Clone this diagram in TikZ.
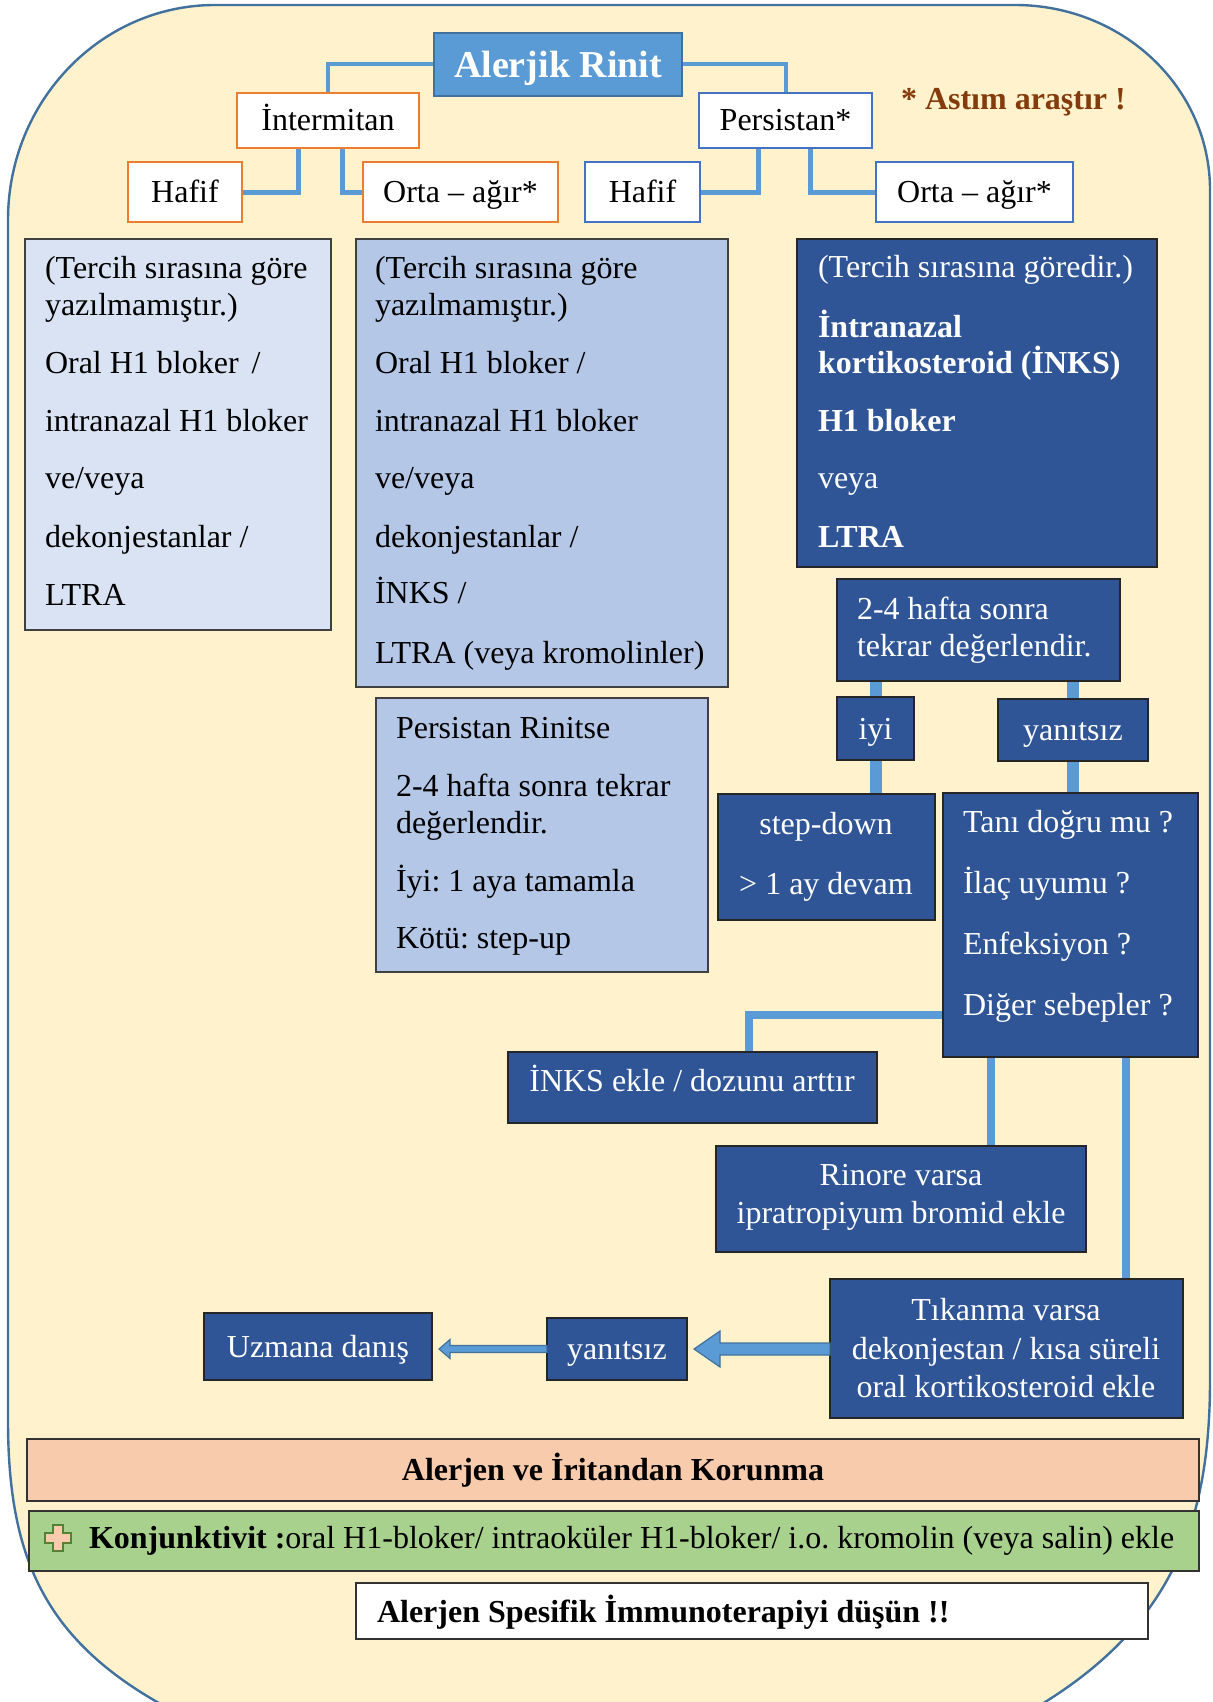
\documentclass[tikz,border=0pt]{standalone}
\usepackage{fontspec}
\setmainfont{Liberation Serif}
\usetikzlibrary{calc}
\definecolor{cream}{HTML}{FFF2CC}
\definecolor{outline}{HTML}{41719C}
\definecolor{cblue}{HTML}{5B9BD5}
\definecolor{tedge}{HTML}{41719C}
\definecolor{orng}{HTML}{ED7D31}
\definecolor{bedge}{HTML}{4472C4}
\definecolor{lbone}{HTML}{DAE3F3}
\definecolor{lbtwo}{HTML}{B4C7E7}
\definecolor{dk}{HTML}{2F5597}
\definecolor{peach}{HTML}{F8CBAD}
\definecolor{grn}{HTML}{A9D18E}
\definecolor{grnedge}{HTML}{548235}
\definecolor{brwn}{HTML}{843C0C}
\pgfdeclarelayer{back}
\pgfdeclarelayer{bg}
\pgfsetlayers{back,bg,main}
\newcommand\mkbox[6]{\node[#6, minimum width={0.5*(#4-#2)}, minimum height={0.5*(#5-#3)}] (#1) at ({(#2+#4)/2},{(#3+#5)/2})}
\tikzset{
  basebox/.style={inner sep=0pt, outer sep=0pt, font=\fontsize{16}{19}\selectfont, text height=12pt, text depth=1.5pt, align=center},
  titlebox/.style={basebox, fill=cblue, draw=tedge, line width=1.2pt, text=white, font=\fontsize{19}{22}\selectfont\bfseries, text height=15pt, text depth=1.5pt},
  obox/.style={basebox, fill=white, draw=orng, line width=1.4pt},
  bbox/.style={basebox, fill=white, draw=bedge, line width=1.4pt},
  lonebox/.style={basebox, fill=lbone, draw=black!75, line width=0.7pt},
  ltwobox/.style={basebox, fill=lbtwo, draw=black!75, line width=0.7pt},
  dbox/.style={basebox, fill=dk, draw=black!85, line width=0.7pt, text=white},
  tl/.style={inner sep=0pt, outer sep=0pt, font=\fontsize{16}{19}\selectfont, anchor=base west},
  tc/.style={inner sep=0pt, outer sep=0pt, font=\fontsize{16}{19}\selectfont, anchor=base},
  wt/.style={text=white},
  cone/.style={draw=cblue, line width=2pt},
  ctwo/.style={draw=cblue, line width=2.5pt},
  cthree/.style={draw=cblue, line width=6pt},
  cfour/.style={draw=cblue, line width=4pt},
  barrow/.style={fill=cblue, draw=tedge, line width=0.6pt, line join=miter}
}
\begin{document}
\frenchspacing
\begin{tikzpicture}[x=0.5pt,y=-0.5pt]
\useasboundingbox (0,0) rectangle (1213,1702);
\begin{pgfonlayer}{back}
\fill[white] (0,0) rectangle (1213,1702);
\begin{scope}
\clip (0,0) rectangle (1213,1702);
\filldraw[fill=cream, draw=outline, line width=1.2pt]
  (215,5) -- (1015,5) .. controls (1123,5) and (1210,88) .. (1210,190)
  -- (1210,1380) .. controls (1210,1560) and (1150,1680) .. (900,1770)
  -- (320,1770) .. controls (70,1690) and (8,1600) .. (8,1420)
  -- (8,220) .. controls (8,101) and (101,5) .. (215,5) -- cycle;
\end{scope}
\end{pgfonlayer}

% top tree
\mkbox{ar}{434}{33}{682}{96}{titlebox}{Alerjik Rinit};
\mkbox{int}{237}{93}{419}{148}{obox}{İntermitan};
\mkbox{per}{699}{93}{872}{148}{bbox}{Persistan*};
\mkbox{hone}{128}{162}{242}{222}{obox}{Hafif};
\mkbox{oone}{363}{162}{558}{222}{obox}{Orta – ağır*};
\mkbox{htwo}{585}{162}{700}{222}{bbox}{Hafif};
\mkbox{otwo}{876}{162}{1073}{222}{bbox}{Orta – ağır*};
\node[tl, text=brwn, font=\fontsize{16}{19}\selectfont\bfseries] (astim) at (901,110) {* Astım araştır !};

% box 1
\mkbox{bone}{25}{239}{331}{630}{lonebox}{};
\node[tl] (bonea) at (45,278) {(Tercih sırasına göre};
\node[tl] (boneb) at (45,315) {yazılmamıştır.)};
\node[tl] (bonec) at (45,373) {Oral H1 bloker\hspace{2.5pt} /};
\node[tl] (boned) at (45,431) {intranazal H1 bloker};
\node[tl] (bonee) at (45,488) {ve/veya};
\node[tl] (bonef) at (45,547) {dekonjestanlar /};
\node[tl] (boneg) at (45,605) {LTRA};

% box 2
\mkbox{btwo}{356}{239}{728}{687}{ltwobox}{};
\node[tl] (btwoa) at (375,278) {(Tercih sırasına göre};
\node[tl] (btwob) at (375,315) {yazılmamıştır.)};
\node[tl] (btwoc) at (375,373) {Oral H1 bloker /};
\node[tl] (btwod) at (375,431) {intranazal H1 bloker};
\node[tl] (btwoe) at (375,488) {ve/veya};
\node[tl] (btwof) at (375,547) {dekonjestanlar /};
\node[tl] (btwog) at (375,603) {İNKS /};
\node[tl] (btwoh) at (375,663) {LTRA (veya kromolinler)};

% box 3
\mkbox{bthree}{376}{698}{708}{972}{ltwobox}{};
\node[tl] (bthreea) at (396,738) {Persistan Rinitse};
\node[tl] (bthreeb) at (396,796) {2-4 hafta sonra tekrar};
\node[tl] (bthreec) at (396,833) {değerlendir.};
\node[tl] (bthreed) at (396,891) {İyi: 1 aya tamamla};
\node[tl] (bthreee) at (396,948) {Kötü: step-up};

% box 4
\mkbox{bfour}{797}{239}{1157}{567}{dbox}{};
\node[tl,wt] (bfoura) at (818,277) {(Tercih sırasına göredir.)};
\node[tl,wt,font=\fontsize{16}{19}\selectfont\bfseries] (bfourb) at (818,337) {İntranazal};
\node[tl,wt,font=\fontsize{16}{19}\selectfont\bfseries] (bfourc) at (818,373) {kortikosteroid (İNKS)};
\node[tl,wt,font=\fontsize{16}{19}\selectfont\bfseries] (bfourd) at (818,431) {H1 bloker};
\node[tl,wt] (bfoure) at (818,488) {veya};
\node[tl,wt,font=\fontsize{16}{19}\selectfont\bfseries] (bfourf) at (818,547) {LTRA};

% right flow
\mkbox{tdf}{837}{579}{1120}{681}{dbox}{};
\node[tl,wt] (tdfa) at (857,619) {2-4 hafta sonra};
\node[tl,wt] (tdfb) at (857,656) {tekrar değerlendir.};
\mkbox{iyi}{837}{697}{914}{760}{dbox}{iyi};
\mkbox{yan}{998}{699}{1148}{761}{dbox}{yanıtsız};
\mkbox{sd}{718}{794}{935}{920}{dbox}{};
\node[tc,wt] (sda) at (826,834) {step-down};
\node[tc,wt] (sdb) at (826,894) {> 1 ay devam};
\mkbox{tani}{943}{793}{1198}{1057}{dbox}{};
\node[tl,wt] (tania) at (963,832) {Tanı doğru mu ?};
\node[tl,wt] (tanib) at (963,893) {İlaç uyumu ?};
\node[tl,wt] (tanic) at (963,954) {Enfeksiyon ?};
\node[tl,wt] (tanid) at (963,1015) {Diğer sebepler ?};
\mkbox{inks}{508}{1052}{877}{1123}{dbox}{};
\node[tc,wt] (inkst) at (692,1091) {İNKS ekle / dozunu arttır};
\mkbox{rin}{716}{1146}{1086}{1252}{dbox}{};
\node[tc,wt] (rina) at (901,1185) {Rinore varsa};
\node[tc,wt] (rinb) at (901,1223) {ipratropiyum bromid ekle};
\mkbox{tik}{830}{1279}{1183}{1418}{dbox}{};
\node[tc,wt] (tika) at (1006,1320) {Tıkanma varsa};
\node[tc,wt] (tikb) at (1006,1359) {dekonjestan / kısa süreli};
\node[tc,wt] (tikc) at (1006,1397) {oral kortikosteroid ekle};
\mkbox{yantwo}{547}{1318}{687}{1380}{dbox}{yanıtsız};
\mkbox{uz}{204}{1313}{432}{1380}{dbox}{Uzmana danış};

% bottom bars
\mkbox{kor}{27}{1439}{1199}{1501}{basebox, fill=peach, draw=black!80, line width=0.8pt}{};
\node[tc, font=\fontsize{16}{19}\selectfont\bfseries] (kort) at (613,1480) {Alerjen ve İritandan Korunma};
\mkbox{kon}{29}{1511}{1199}{1571}{basebox, fill=grn, draw=black!80, line width=0.8pt}{};
\node[tl] (kont) at (89,1548) {\textbf{Konjunktivit :}oral H1-bloker/ intraoküler H1-bloker/ i.o. kromolin (veya salin) ekle};
\filldraw[fill=peach, draw=grnedge, line width=1pt]
  (53,1525) -- (63,1525) -- (63,1533) -- (71,1533) -- (71,1543) -- (63,1543) -- (63,1551)
  -- (53,1551) -- (53,1543) -- (45,1543) -- (45,1533) -- (53,1533) -- cycle;
\mkbox{asit}{356}{1583}{1148}{1639}{basebox, fill=white, draw=black!80, line width=0.8pt}{};
\node[tl, font=\fontsize{16}{19}\selectfont\bfseries] (asitt) at (377,1622) {Alerjen Spesifik İmmunoterapiyi düşün !!};

% connectors
\begin{pgfonlayer}{bg}
\draw[cone] (ar.west) -| (int.north);
\draw[cone] (ar.east) -| (per.north);
\draw[ctwo] ($(int.south)+(-30,0)$) |- (hone.east);
\draw[ctwo] ($(int.south)+(14,0)$) |- (oone.west);
\draw[ctwo] ($(per.south)+(-27,0)$) |- (htwo.east);
\draw[ctwo] ($(per.south)+(25,0)$) |- (otwo.west);
\draw[cthree] (iyi.north) -- (iyi.north |- tdf.south);
\draw[cthree] (iyi.south) -- (iyi.south |- sd.north);
\draw[cthree] (yan.north) -- (yan.north |- tdf.south);
\draw[cthree] (yan.south) -- (yan.south |- tani.north);
\coordinate (ta) at ($(tani.south west)+(0,-42)$);
\coordinate (tinks) at ($(inks.north)+(56,0)$);
\draw[cfour] (ta) -| (tinks);
\coordinate (tb) at ($(tani.south)+(-80,0)$);
\draw[cfour] (tb) -- (tb |- rin.north);
\coordinate (tcc) at ($(tani.south)+(55,0)$);
\draw[cfour] (tcc) -- (tcc |- tik.north);
\end{pgfonlayer}

% block arrows
\coordinate (ye) at (yantwo.east);
\coordinate (ue) at (uz.east |- yantwo.west);
\filldraw[barrow] ($(tik.west |- ye)+(0,-6)$) -- ($(ye)+(33,-6)$) -- ($(ye)+(33,-18)$) -- ($(ye)+(7,0)$)
  -- ($(ye)+(33,18)$) -- ($(ye)+(33,6)$) -- ($(tik.west |- ye)+(0,6)$) -- cycle;
\filldraw[barrow] ($(yantwo.west)+(0,-3.5)$) -- ($(ue)+(18,-3.5)$) -- ($(ue)+(18,-9.5)$) -- ($(ue)+(7,0)$)
  -- ($(ue)+(18,9.5)$) -- ($(ue)+(18,3.5)$) -- ($(yantwo.west)+(0,3.5)$) -- cycle;
\end{tikzpicture}
\end{document}
